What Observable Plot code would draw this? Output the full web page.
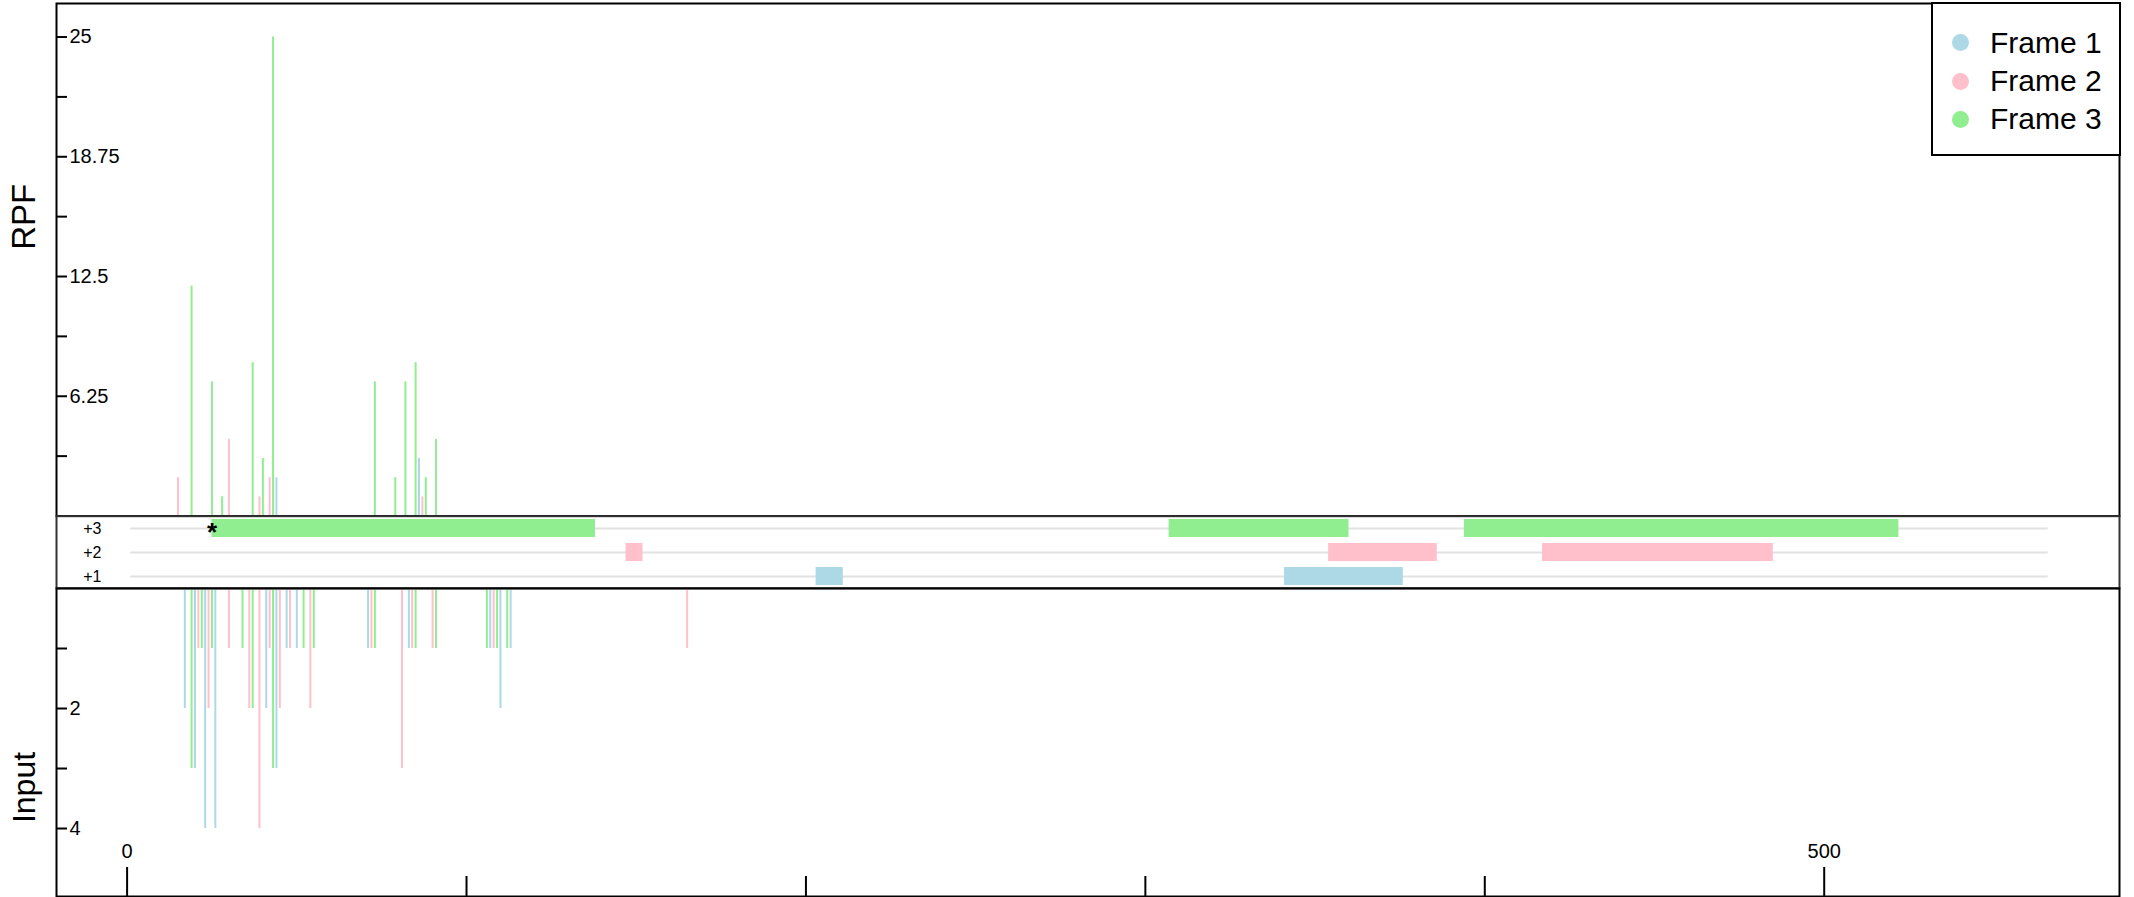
<!DOCTYPE html>
<html>
<head>
<meta charset="utf-8">
<script src="https://cdn.jsdelivr.net/npm/d3@7"></script>
<script src="https://cdn.jsdelivr.net/npm/@observablehq/plot@0.6"></script>
<style>
  body { margin: 0; background: #fff; }
  #chart { position: relative; width: 2134px; height: 897px; font-family: "Liberation Sans", Arial, Helvetica, sans-serif; }
  #chart svg { position: absolute; left: 0; }
  .legend { position: absolute; left: 1931px; top: 2px; width: 190px; height: 154px; box-sizing: border-box; border: 2px solid #000; background: #fff; }
  .legend .item { position: absolute; left: 0; height: 38px; display: flex; align-items: center; }
  .legend .dot { width: 17px; height: 17px; border-radius: 50%; margin-left: 19px; }
  .legend .lab { margin-left: 21px; font-size: 30px; color: #000; line-height: 38px; }
</style>
</head>
<body>
<div id="chart"></div>
<script>
// ---------------- data ----------------
const frames = ["Frame 1", "Frame 2", "Frame 3"];
const frameColors = ["#ADD8E6", "#FFC0CB", "#90EE90"];
const trackLabels = ["+3", "+2", "+1"];
const axisTitles = ["RPF", "Input"];

// RPF counts (top panel)
const rpfPos   = [15, 19, 25, 28, 30, 37, 39, 40, 42, 43, 44, 73, 79, 82, 85, 86, 87, 88, 91];
const rpfVal   = [ 2, 12,  7,  1,  4,  8,  1,  3,  2, 25,  2,  7,  2,  7,  8,  3,  1,  2,  4];
const rpfFrame = [ 2,  3,  3,  3,  2,  3,  2,  3,  2,  3,  1,  3,  3,  3,  3,  1,  2,  3,  3];

// Input counts (bottom panel, drawn downward)
const inputPos   = [17, 19, 20, 21, 22, 23, 24, 25, 26, 30, 34, 36, 37, 39, 41, 42, 43, 44, 45, 47, 48,
                    50, 52, 54, 55, 71, 72, 73, 81, 83, 84, 85, 90, 91, 106, 107, 108, 109, 110, 112, 113, 165];
const inputVal   = [ 2,  3,  3,  1,  1,  4,  2,  1,  4,  1,  1,  2,  2,  4,  2,  1,  3,  3,  2,  1,  1,
                     1,  1,  2,  1,  1,  1,  1,  3,  1,  1,  1,  1,  1,  1,  1,  1,  1,  2,  1,  1,  1];
const inputFrame = [ 1,  3,  1,  2,  3,  1,  2,  3,  1,  2,  3,  2,  3,  2,  1,  2,  3,  1,  2,  1,  2,
                     1,  3,  2,  3,  1,  2,  3,  2,  1,  2,  3,  2,  3,  3,  1,  2,  3,  1,  3,  1,  2];

// ORFs (middle panel)
const orfStart = [25, 307, 394, 147, 354, 417, 203, 341];
const orfEnd   = [138, 360, 522, 152, 386, 485, 211, 376];
const orfFrame = [3, 3, 3, 2, 2, 2, 1, 1];
const trackStart = 1, trackEnd = 566;
const startMarkPos = [25];
const startMarkFrame = [3];

// ticks
const rpfTicks = [3.125, 6.25, 9.375, 12.5, 15.625, 18.75, 21.875, 25];
const rpfLabelTicks = [6.25, 12.5, 18.75, 25];
const inputTicks = [-1, -2, -3, -4];
const inputLabelTicks = [-2, -4];
const xMajorTicks = [0, 500];
const xMinorTicks = [100, 200, 300, 400];

// ---------------- tables ----------------
const rpf = rpfPos.map((p, i) => ({pos: p, value: rpfVal[i], frame: frames[rpfFrame[i] - 1]}));
const inp = inputPos.map((p, i) => ({pos: p, value: -inputVal[i], frame: frames[inputFrame[i] - 1]}));
const orfs = orfStart.map((s, i) => ({start: s, end: orfEnd[i], frame: frames[orfFrame[i] - 1], track: trackLabels[3 - orfFrame[i]]}));
const tracks = trackLabels.map(t => ({track: t, from: trackStart, to: trackEnd}));
const marks = startMarkPos.map((p, i) => ({pos: p, track: trackLabels[3 - startMarkFrame[i]]}));

// ---------------- layout ----------------
const W = 2134, ML = 56, MR = 15;
const xDomain = [-20.8, 587];
const font = '"Liberation Sans", Arial, Helvetica, sans-serif';
const svgStyle = {background: "transparent", overflow: "visible", fontFamily: font, fontSize: "20px", color: "#000"};
const color = {domain: frames, range: frameColors};

const chart = document.getElementById("chart");

// Top panel: RPF
const p1 = Plot.plot({
  width: W, height: 520, marginLeft: ML, marginRight: MR, marginTop: 3, marginBottom: 4.5,
  x: {domain: xDomain, axis: null},
  y: {domain: [0, 26.75]},
  color,
  style: svgStyle,
  marks: [
    Plot.ruleX(rpf, {x: "pos", y: "value", stroke: "frame", strokeWidth: 2}),
    Plot.axisY(rpfTicks, {anchor: "left", tickSize: 11, dx: 11, tickPadding: -13, textAnchor: "start",
      tickFormat: d => rpfLabelTicks.includes(d) ? String(d) : "", fontSize: 20, strokeWidth: 2, label: null}),
    Plot.text([axisTitles[0]], {text: d => d, frameAnchor: "left", textAnchor: "middle", rotate: -90, dx: -32, dy: -43, fontSize: 33}),
    Plot.frame({stroke: "#000", strokeWidth: 2})
  ]
});
p1.style.top = "0px";
chart.appendChild(p1);

// Middle panel: ORF tracks
const p2 = Plot.plot({
  width: W, height: 84, marginLeft: ML, marginRight: MR, marginTop: 5.7, marginBottom: 6.3,
  x: {domain: xDomain, axis: null},
  y: {type: "band", domain: trackLabels, padding: 0},
  color,
  style: svgStyle,
  marks: [
    Plot.ruleY(tracks, {y: "track", x1: "from", x2: "to", stroke: "#e2e2e2", strokeWidth: 2}),
    Plot.barX(orfs, {x1: "start", x2: "end", y: "track", fill: "frame", insetTop: 3, insetBottom: 3}),
    Plot.text(marks, {x: "pos", y: "track", text: () => "*", fontSize: 26, fontWeight: "bold", dy: 4}),
    Plot.axisY({anchor: "left", tickSize: 0, dx: 54, fontSize: 16, label: null}),
    Plot.frame({stroke: "#333", strokeWidth: 2})
  ]
});
p2.style.top = "510px";
chart.appendChild(p2);

// Bottom panel: Input
const p3 = Plot.plot({
  width: W, height: 313, marginLeft: ML, marginRight: MR, marginTop: 4, marginBottom: 1,
  x: {domain: xDomain},
  y: {domain: [-5.133, 0]},
  color,
  style: svgStyle,
  marks: [
    Plot.ruleX(inp, {x: "pos", y: "value", stroke: "frame", strokeWidth: 2}),
    Plot.axisY(inputTicks, {anchor: "left", tickSize: 11, dx: 11, tickPadding: -13, textAnchor: "start",
      tickFormat: d => inputLabelTicks.includes(d) ? String(Math.abs(d)) : "", fontSize: 20, strokeWidth: 2, label: null}),
    Plot.axisX(xMinorTicks, {anchor: "bottom", tickSize: 20, dy: -20, tickFormat: () => "", strokeWidth: 2, label: null}),
    Plot.axisX(xMajorTicks, {anchor: "bottom", tickSize: 29, dy: -29, tickPadding: -53, fontSize: 20, strokeWidth: 2, label: null}),
    Plot.text([axisTitles[1]], {text: d => d, frameAnchor: "left", textAnchor: "middle", rotate: -90, dx: -32, dy: 45, fontSize: 32}),
    Plot.frame({stroke: "#000", strokeWidth: 2})
  ]
});
p3.style.top = "584px";
chart.appendChild(p3);

// Legend
const scale = Plot.scale({color: {type: "ordinal", domain: frames, range: frameColors}});
const legend = document.createElement("div");
legend.className = "legend";
const centers = [38.7, 77, 115.3];
frames.forEach((f, i) => {
  const item = document.createElement("div");
  item.className = "item";
  item.style.top = (centers[i] - 19) + "px";
  const dot = document.createElement("div");
  dot.className = "dot";
  dot.style.background = scale.apply(f);
  const lab = document.createElement("div");
  lab.className = "lab";
  lab.textContent = f;
  item.appendChild(dot);
  item.appendChild(lab);
  legend.appendChild(item);
});
chart.appendChild(legend);
</script>
</body>
</html>
